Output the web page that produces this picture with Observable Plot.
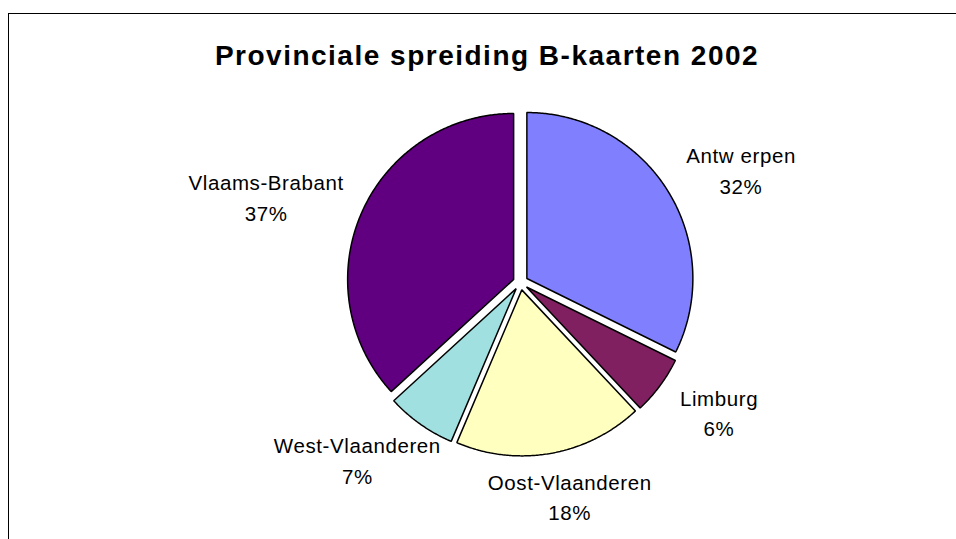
<!DOCTYPE html>
<html><head><meta charset="utf-8">
<script src="https://cdn.jsdelivr.net/npm/d3@7"></script>
<script src="https://cdn.jsdelivr.net/npm/@observablehq/plot@0.6"></script>
<style>
html,body{margin:0;padding:0;background:#fff;overflow:hidden}
#chart{position:relative;width:956px;height:539px;overflow:hidden}
#border{position:absolute;left:8px;top:13px;width:1200px;height:900px;border-left:1px solid #000;border-top:1px solid #000;pointer-events:none}
</style></head><body><div id="chart"><div id="border"></div></div>
<script>
// ---- data ----
const provinces = ["Antwerpen", "Limburg", "Oost-Vlaanderen", "West-Vlaanderen", "Vlaams-Brabant"];
const labelNames = ["Antw erpen", "Limburg", "Oost-Vlaanderen", "West-Vlaanderen", "Vlaams-Brabant"];
const shares = [32.3, 5.7, 18.4, 6.8, 36.8];
const colors = ["#8080FF", "#802060", "#FFFFC0", "#A0E0E0", "#600080"];
const title = "Provinciale spreiding B-kaarten 2002";

// ---- layout ----
const W = 956, H = 539, CX = 520, CY = 282, R = 166, EXPLODE = 7.5;
const LABEL_R = 216, LABEL_W = 0.4;
const FONT = 20.5, LINE = 1.5, LS = 0.6, TITLE_FONT = 28, TITLE_LS = 1.5;
const FAMILY = "'Liberation Sans', Arial, Helvetica, sans-serif";

const total = d3.sum(shares);
const arcs = d3.pie().sort(null).value(d => d)(shares);
const e = EXPLODE / R;

const slicePts = [];
arcs.forEach((p, i) => {
  const mid = (p.startAngle + p.endAngle) / 2;
  const ox = e * Math.sin(mid), oy = e * Math.cos(mid);
  slicePts.push({name: provinces[i], x: ox, y: oy});
  const n = Math.max(2, Math.ceil((p.endAngle - p.startAngle) / (Math.PI / 360)));
  for (let k = 0; k <= n; k++) {
    const a = p.startAngle + (p.endAngle - p.startAngle) * k / n;
    slicePts.push({name: provinces[i], x: ox + Math.sin(a), y: oy + Math.cos(a)});
  }
});

const ctx = document.createElement("canvas").getContext("2d");
ctx.font = `${FONT}px ${FAMILY}`;
const measure = s => ctx.measureText(s).width + (s.length - 1) * LS;

const labels = arcs.map((p, i) => {
  const mid = (p.startAngle + p.endAngle) / 2;
  const ux = Math.sin(mid), uy = Math.cos(mid);
  const pct = Math.round(p.value / total * 100) + "%";
  const w = Math.max(measure(labelNames[i]), measure(pct));
  return {
    text: labelNames[i] + "\n" + pct,
    x: (LABEL_R + LABEL_W * w) * ux / R,
    y: LABEL_R * uy / R
  };
});

const chart = Plot.plot({
  width: W, height: H,
  marginLeft: 0, marginTop: 0, marginRight: 0, marginBottom: 0,
  x: {domain: [-1, 1], range: [CX - R, CX + R], axis: null},
  y: {domain: [-1, 1], range: [CY + R, CY - R], axis: null},
  color: {domain: provinces, range: colors},
  style: {fontFamily: FAMILY, background: "transparent", color: "black"},
  marks: [
    Plot.text([title], {text: d => d, frameAnchor: "top", lineAnchor: "top", dy: 45, dx: 8.5,
      fontSize: TITLE_FONT, fontWeight: "bold", fill: "black"}),
    Plot.line(slicePts, {x: "x", y: "y", z: "name", fill: "name", stroke: "black",
      strokeWidth: 1.5, curve: "linear-closed", strokeLinejoin: "miter"}),
    Plot.text(labels, {x: "x", y: "y", text: "text", fontSize: FONT, lineHeight: LINE,
      lineAnchor: "middle", textAnchor: "middle", fill: "black"})
  ]
});
chart.querySelectorAll("text").forEach(t => {
  if (t.textContent === title) t.style.letterSpacing = TITLE_LS + "px";
  else t.style.letterSpacing = LS + "px";
});
document.getElementById("chart").appendChild(chart);
</script>
</body></html>
